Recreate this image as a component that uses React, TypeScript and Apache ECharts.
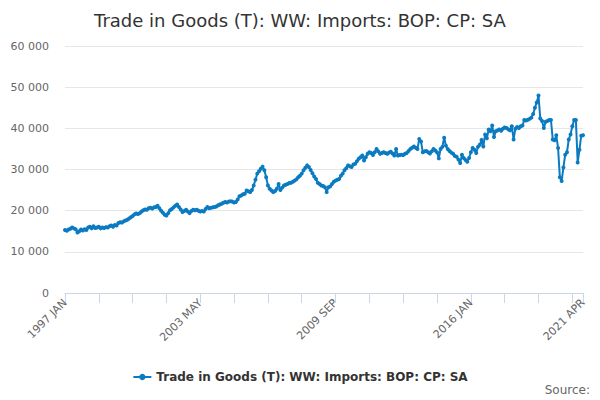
import React, { useEffect, useRef } from "react";
import * as echarts from "echarts";

const TITLE = "Trade in Goods (T): WW: Imports: BOP: CP: SA";
const SERIES_NAME = "Trade in Goods (T): WW: Imports: BOP: CP: SA";
const MONTHS = ["JAN", "FEB", "MAR", "APR", "MAY", "JUN", "JUL", "AUG", "SEP", "OCT", "NOV", "DEC"];
const START_YEAR = 1997;

const v1997 = [15300, 15100, 15400, 15600, 15900, 15700, 15500, 14700, 15000, 15400, 15200, 15500];
const v1998 = [15300, 15900, 16100, 15700, 16200, 15800, 15900, 16100, 15700, 15900, 15800, 16000];
const v1999 = [15900, 16200, 16400, 16100, 16500, 16400, 17000, 17200, 17100, 17400, 17600, 17800];
const v2000 = [18100, 18400, 18700, 19100, 19300, 19200, 19400, 19800, 20100, 20300, 20200, 20600];
const v2001 = [20700, 20500, 20800, 20900, 21200, 20600, 20000, 19500, 19000, 18800, 19400, 20100];
const v2002 = [20400, 20800, 21200, 21500, 20900, 20300, 19700, 19900, 20200, 19800, 19400, 19900];
const v2003 = [20200, 20100, 20200, 20000, 19800, 19900, 19800, 20400, 20900, 20600, 20700, 20800];
const v2004 = [20900, 21000, 21300, 21500, 21700, 21900, 22100, 22000, 22200, 22300, 22200, 22000];
const v2005 = [22100, 22700, 23500, 23700, 24000, 24100, 24900, 24700, 24500, 25000, 26100, 27500];
const v2006 = [29000, 29600, 30200, 30700, 29800, 28100, 26100, 25300, 24900, 24500, 24800, 25300];
const v2007 = [26500, 25000, 25600, 26100, 26300, 26500, 26700, 26800, 27000, 27300, 27600, 28100];
const v2008 = [28500, 29000, 29800, 30400, 31000, 30600, 29900, 29100, 28300, 27700, 26800, 26500];
const v2009 = [26100, 26000, 25700, 24500, 25700, 25900, 26500, 27000, 27300, 27500, 27700, 28500];
const v2010 = [29000, 29800, 30300, 31000, 30800, 30600, 31200, 31400, 32000, 32600, 33000, 33400];
const v2011 = [32200, 33000, 33800, 34200, 34000, 33500, 34200, 35000, 34400, 33800, 34000, 34200];
const v2012 = [34000, 33800, 34100, 34300, 33900, 33400, 35000, 33400, 33500, 33600, 33500, 33800];
const v2013 = [34000, 34500, 35000, 35300, 35600, 35300, 35000, 37400, 36800, 34200, 34400, 34500];
const v2014 = [34200, 33900, 34400, 35000, 34600, 34200, 32700, 35000, 35500, 37700, 35800, 35000];
const v2015 = [34500, 34100, 33800, 33300, 33100, 32400, 31600, 33600, 32800, 32300, 31900, 32800];
const v2016 = [34200, 35200, 34800, 34000, 35500, 36000, 37200, 35600, 38500, 37600, 39700, 39300];
const v2017 = [40700, 37900, 39300, 39500, 39700, 39400, 39900, 40200, 40100, 39800, 39500, 40500];
const v2018 = [37300, 39900, 40300, 40100, 40500, 40700, 42000, 41900, 42100, 42300, 42600, 43500];
const v2019 = [45000, 46300, 48000, 42400, 41800, 40100, 41600, 41800, 42000, 42000, 37300, 37100];
const v2020 = [38300, 35200, 28100, 27200, 30500, 33600, 34200, 37300, 38500, 40500, 42000, 42000];
const v2021 = [31700, 34800, 38200, 38300];

const YEARS_DATA = [
  v1997, v1998, v1999, v2000, v2001, v2002, v2003, v2004, v2005, v2006, v2007, v2008, v2009,
  v2010, v2011, v2012, v2013, v2014, v2015, v2016, v2017, v2018, v2019, v2020, v2021,
];

const Y_MIN = 0;
const Y_MAX = 60000;
const Y_INTERVAL = 10000;
const LABEL_EVERY = 76;
const TICK_EVERY = 19;

const values: number[] = [];
const categories: string[] = [];
YEARS_DATA.forEach((arr, yi) => {
  arr.forEach((v, mi) => {
    values.push(v);
    categories.push(`${START_YEAR + yi} ${MONTHS[mi]}`);
  });
});

const fmt = (v: number) => String(v).replace(/\B(?=(\d{3})+(?!\d))/g, " ");

export default function App() {
  const ref = useRef<HTMLDivElement>(null);
  useEffect(() => {
    document.body.style.margin = "0";
    if (!ref.current) return;
    const chart = echarts.init(ref.current, undefined, { renderer: "svg" });
    const last = values.length - 1;
    const font = "'DejaVu Sans', sans-serif";
    chart.setOption({
      animation: false,
      textStyle: { fontFamily: font },
      title: {
        text: TITLE,
        left: "center",
        top: 6,
        textStyle: { fontSize: 18, fontWeight: "normal", color: "#333333", fontFamily: font },
      },
      grid: { left: 65, right: 17, top: 46, bottom: 107, containLabel: false },
      legend: {
        data: [SERIES_NAME],
        left: "center",
        top: 366,
        itemWidth: 18,
        itemHeight: 8,
        textStyle: { fontSize: 12, fontWeight: "bold", color: "#333333", fontFamily: font },
      },
      graphic: [
        {
          type: "text",
          right: 10,
          bottom: 4,
          style: { text: "Source:", fontSize: 12, fill: "#666666", fontFamily: font },
        },
      ],
      xAxis: {
        type: "category",
        data: categories,
        boundaryGap: false,
        axisLine: { lineStyle: { color: "#ccd6eb" } },
        axisTick: {
          length: 10,
          lineStyle: { color: "#ccd6eb" },
          interval: (i: number) => i % TICK_EVERY === 0 || i === last,
        },
        axisLabel: {
          rotate: 45,
          fontSize: 11,
          color: "#666666",
          margin: 8,
          fontFamily: font,
          interval: (i: number) => i % LABEL_EVERY === 0 || i === last,
        },
        splitLine: { show: false },
      },
      yAxis: {
        type: "value",
        min: Y_MIN,
        max: Y_MAX,
        interval: Y_INTERVAL,
        axisLine: { show: false },
        axisTick: { show: false },
        axisLabel: { fontSize: 11, color: "#666666", margin: 16, fontFamily: font, formatter: fmt },
        splitLine: { lineStyle: { color: "#e6e6e6" } },
      },
      series: [
        {
          name: SERIES_NAME,
          type: "line",
          data: values,
          showSymbol: true,
          showAllSymbol: true,
          symbol: "circle",
          symbolSize: 4,
          itemStyle: { color: "#0b7bc1" },
          lineStyle: { color: "#0b7bc1", width: 2 },
        },
      ],
    });
    return () => chart.dispose();
  }, []);
  return <div ref={ref} style={{ width: 600, height: 400 }} />;
}
